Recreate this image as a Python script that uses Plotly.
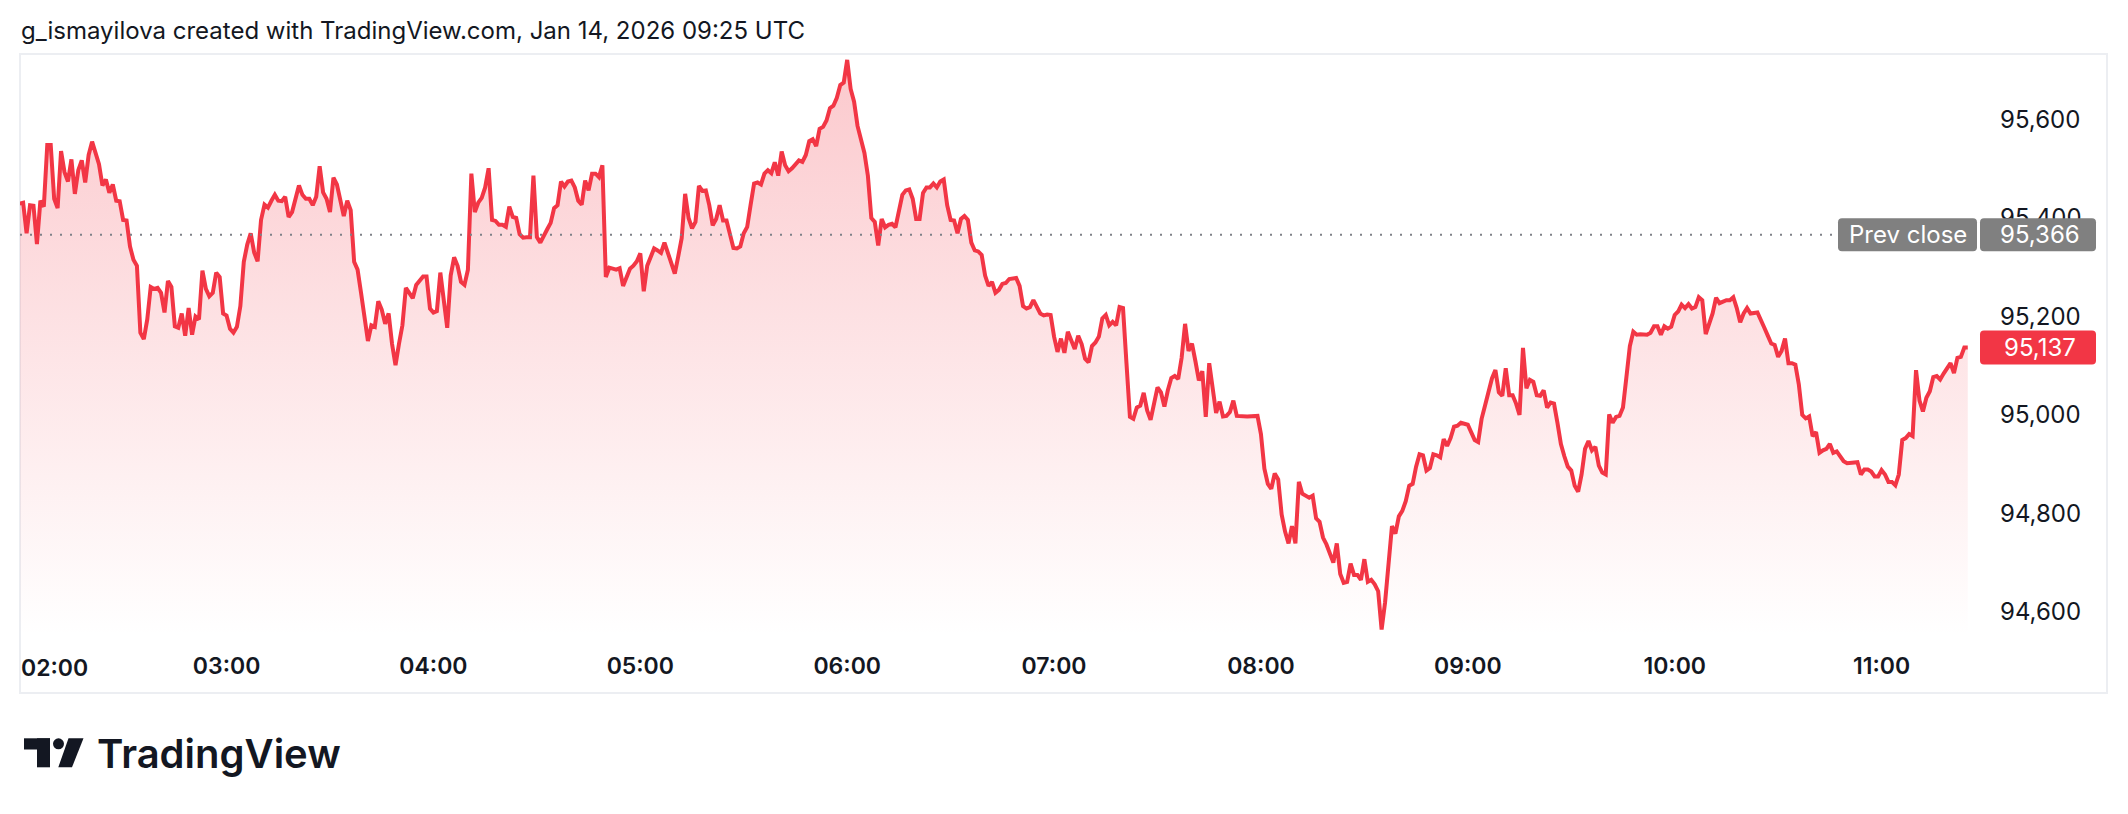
import plotly.graph_objects as go
import pandas as pd

# ---------------- data ----------------
session_start = "2026-01-14 02:00"
minute_offsets = [
    0, 1, 2, 3, 4, 5, 6, 7, 8, 9, 10, 11, 12, 13, 14, 15, 16, 17, 18, 19, 20, 21, 23, 24, 25, 26, 27, 28, 29, 30,
    31, 32, 33, 34, 35, 36, 37, 38, 39, 40, 41, 42, 43, 44, 45, 46, 47, 48, 49, 50, 51, 52, 53, 54, 55, 56, 57, 58, 59, 60,
    61, 62, 63, 64, 65, 66, 67, 68, 69, 70, 71, 72, 73, 74, 75, 76, 77, 78, 79, 80, 81, 82, 83, 84, 85, 86, 87, 88, 89, 90,
    91, 92, 93, 94, 95, 96, 97, 98, 99, 100, 101, 102, 103, 104, 105, 106, 107, 108, 109, 110, 111, 112, 113, 114, 115, 116, 117, 118, 119, 120,
    121, 122, 123, 124, 125, 126, 127, 128, 129, 130, 131, 132, 133, 134, 135, 136, 137, 138, 139, 140, 141, 142, 143, 144, 145, 146, 147, 148, 149, 150,
    151, 152, 153, 154, 155, 156, 157, 158, 159, 160, 161, 162, 163, 164, 165, 166, 167, 168, 169, 170, 171, 173, 174, 175, 176, 177, 178, 179, 180,
    181, 182, 183, 184, 185, 186, 187, 188, 189, 190, 191, 192, 193, 194, 195, 196, 197, 198, 199, 200, 201, 202, 203, 204, 205, 206, 207, 208, 209, 210,
    211, 212, 213, 214, 215, 216, 217, 218, 219, 220, 221, 222, 223, 224, 226, 227, 228, 229, 230, 231, 232, 233, 234, 235, 236, 237, 238, 239, 240,
    241, 242, 243, 244, 245, 246, 247, 248, 249, 250, 251, 252, 253, 254, 255, 256, 257, 258, 259, 260, 261, 262, 263, 264, 265, 266, 267, 268, 269, 270,
    271, 272, 273, 274, 275, 276, 277, 278, 279, 280, 281, 282, 283, 284, 285, 286, 287, 289, 290, 291, 292, 293, 294, 295, 296, 297, 298, 299, 300,
    301, 302, 303, 304, 305, 306, 307, 308, 309, 310, 311, 312, 313, 314, 315, 316, 317, 318, 319, 320, 321, 322, 323, 324, 325, 326, 327, 328, 329, 330,
    331, 332, 333, 334, 335, 336, 337, 338, 339, 340, 341, 342, 343, 344, 345, 346, 347, 348, 349, 350, 351, 352, 353, 356, 359, 360,
    361, 362, 363, 364, 365, 366, 367, 368, 369, 370, 371, 372, 373, 374, 375, 376, 377, 378, 379, 380, 381, 382, 383, 384, 385, 386, 387, 388, 389, 390,
    391, 392, 393, 394, 395, 396, 397, 398, 399, 400, 401, 402, 403, 404, 405, 406, 407, 408, 409, 410, 411, 412, 413, 414, 415, 416, 417, 418, 420,
    421, 422, 423, 424, 425, 426, 427, 428, 429, 430, 431, 432, 433, 434, 435, 436, 437, 438, 439, 440, 441, 442, 443, 444, 445, 446, 447, 448, 449, 450,
    451, 452, 453, 454, 455, 456, 457, 458, 459, 460, 461, 462, 463, 464, 465, 466, 467, 468, 469, 470, 472, 473, 474, 475, 476, 477, 478, 479, 480,
    481, 482, 483, 484, 485, 486, 487, 488, 489, 490, 491, 492, 493, 495, 496, 497, 498, 499, 500, 501, 502, 504, 505, 506, 507, 508, 509, 510,
    511, 512, 513, 514, 515, 516, 517, 518, 519, 520, 521, 522, 523, 524, 525, 526, 527, 528, 529, 530, 531, 533, 534, 535, 536, 537, 538, 539, 540,
    541, 542, 543, 544, 545, 546, 547, 548, 549, 550, 551, 552, 553, 554, 555, 556, 557, 558, 559, 560, 561, 562, 563, 564, 565,
]
prices = [
    95429, 95431, 95369, 95426, 95425, 95347, 95435, 95423, 95548, 95548, 95439, 95420, 95536, 95493, 95474, 95519, 95449, 95497, 95517, 95472, 95528, 95555, 95509, 95466, 95478, 95451, 95468, 95435, 95434, 95396,
    95395, 95342, 95315, 95303, 95167, 95154, 95194, 95260, 95256, 95258, 95248, 95208, 95272, 95260, 95180, 95177, 95206, 95161, 95217, 95163, 95200, 95194, 95293, 95256, 95241, 95248, 95289, 95280, 95206, 95202,
    95175, 95167, 95179, 95221, 95311, 95346, 95369, 95330, 95312, 95396, 95427, 95421, 95435, 95447, 95435, 95434, 95443, 95402, 95412, 95441, 95466, 95447, 95439, 95439, 95426, 95443, 95505, 95452, 95439, 95412,
    95482, 95468, 95439, 95404, 95435, 95416, 95311, 95295, 95248, 95194, 95150, 95182, 95179, 95231, 95214, 95185, 95206, 95144, 95101, 95144, 95182, 95258, 95246, 95237, 95264, 95273, 95281, 95281, 95216, 95208,
    95211, 95289, 95225, 95177, 95283, 95320, 95303, 95270, 95264, 95295, 95490, 95412, 95431, 95441, 95462, 95501, 95396, 95394, 95386, 95386, 95382, 95423, 95402, 95400, 95367, 95360, 95361, 95361, 95486, 95361,
    95350, 95365, 95377, 95390, 95420, 95426, 95474, 95464, 95474, 95476, 95462, 95435, 95427, 95476, 95456, 95490, 95490, 95483, 95507, 95280, 95299, 95295, 95298, 95262, 95280, 95297, 95303, 95312, 95328,
    95251, 95303, 95322, 95338, 95334, 95329, 95350, 95329, 95312, 95287, 95322, 95359, 95449, 95400, 95379, 95392, 95465, 95455, 95456, 95426, 95385, 95398, 95426, 95395, 95395, 95365, 95339, 95338, 95342, 95369,
    95382, 95427, 95470, 95472, 95468, 95490, 95497, 95491, 95513, 95486, 95535, 95507, 95495, 95501, 95517, 95514, 95528, 95556, 95560, 95546, 95581, 95585, 95598, 95623, 95628, 95644, 95670, 95675, 95721,
    95662, 95636, 95587, 95561, 95532, 95486, 95400, 95392, 95344, 95398, 95381, 95386, 95388, 95381, 95412, 95447, 95456, 95458, 95439, 95398, 95398, 95451, 95462, 95462, 95470, 95462, 95474, 95478, 95426, 95396,
    95395, 95369, 95398, 95404, 95396, 95350, 95334, 95332, 95325, 95283, 95262, 95270, 95248, 95254, 95266, 95268, 95276, 95278, 95262, 95221, 95216, 95219, 95233, 95217, 95206, 95202, 95204, 95203, 95159,
    95128, 95155, 95126, 95169, 95151, 95134, 95161, 95144, 95114, 95107, 95140, 95147, 95159, 95196, 95203, 95182, 95189, 95182, 95219, 95217, 95105, 94996, 94992, 95015, 95019, 95045, 95009, 94990, 95023, 95056,
    95046, 95017, 95050, 95075, 95079, 95073, 95116, 95185, 95130, 95145, 95109, 95070, 95089, 94996, 95105, 95054, 95004, 95027, 94997, 94998, 95006, 95029, 94998, 94997, 94998, 94961,
    94891, 94860, 94850, 94881, 94869, 94798, 94763, 94739, 94774, 94739, 94864, 94840, 94835, 94832, 94836, 94790, 94783, 94751, 94737, 94720, 94700, 94739, 94677, 94659, 94661, 94698, 94675, 94675, 94665, 94707,
    94661, 94665, 94656, 94642, 94564, 94619, 94704, 94774, 94759, 94794, 94805, 94825, 94856, 94860, 94895, 94920, 94918, 94887, 94892, 94920, 94918, 94914, 94951, 94937, 94953, 94976, 94978, 94984, 94980,
    94965, 94949, 94945, 94992, 95019, 95050, 95074, 95091, 95046, 95039, 95095, 95040, 95040, 95023, 95000, 95136, 95054, 95071, 95067, 95040, 95039, 95050, 95015, 95025, 95023, 94984, 94941, 94916, 94895, 94887,
    94856, 94844, 94879, 94931, 94947, 94928, 94935, 94897, 94883, 94879, 95001, 94984, 94996, 94998, 95015, 95077, 95140, 95169, 95163, 95164, 95163, 95167, 95180, 95180, 95163, 95180, 95175, 95179, 95203,
    95210, 95224, 95217, 95225, 95216, 95219, 95239, 95233, 95164, 95186, 95206, 95238, 95227, 95233, 95233, 95239, 95217, 95188, 95206, 95217, 95206, 95208, 95194, 95177, 95161, 95145, 95142, 95118,
    95130, 95155, 95105, 95105, 95102, 95062, 95000, 94993, 94997, 94957, 94965, 94923, 94928, 94931, 94941, 94923, 94926, 94914, 94906, 94902, 94902, 94904, 94879, 94889, 94889, 94885, 94875, 94875, 94888,
    94879, 94864, 94864, 94857, 94879, 94949, 94953, 94961, 94957, 95091, 95029, 95007, 95035, 95048, 95077, 95079, 95072, 95084, 95093, 95105, 95085, 95116, 95118, 95137, 95137,
]
prev_close = 95366
price_ticks = [94600, 94800, 95000, 95200, 95400, 95600]
hour_ticks = ["03:00", "04:00", "05:00", "06:00", "07:00", "08:00", "09:00", "10:00", "11:00"]
first_hour_label = "02:00"
title_text = "g_ismayilova created with TradingView.com, Jan 14, 2026 09:25 UTC"

# ---------------- styling / geometry ----------------
# The page body has an 8px margin, so the figure is placed 8px in from the window corner.
OFF = 8
W, H = 2120, 806
RED = "#f23645"
TXT = "#131722"
FONT = "Inter"


def px(x):
    return (x - OFF) / W


def py(y):
    return 1 - (y - OFF) / H


def rrect(w, h, r):
    a, b = w / 2, h / 2
    return (f"M {-a + r},{-b} L {a - r},{-b} Q {a},{-b} {a},{-b + r} "
            f"L {a},{b - r} Q {a},{b} {a - r},{b} L {-a + r},{b} "
            f"Q {-a},{b} {-a},{b - r} L {-a},{-b + r} Q {-a},{-b} {-a + r},{-b} Z")


base = pd.Timestamp(session_start)
times = [base + pd.Timedelta(minutes=m) for m in minute_offsets]
y_bottom, y_top = 94551, 95733

fig = go.Figure()
fig.add_trace(go.Scatter(
    x=times, y=prices, mode="lines",
    line=dict(color=RED, width=4),
    fill="tozeroy",
    fillgradient=dict(type="vertical", start=y_bottom, stop=max(prices),
                      colorscale=[[0, "rgba(242,54,69,0.0)"], [1, "rgba(242,54,69,0.27)"]]),
    hoverinfo="skip", showlegend=False,
))

x_start = base + pd.Timedelta(minutes=0.09)
x_end = base + pd.Timedelta(minutes=567.1)
tick_times = [base.normalize() + pd.Timedelta(t + ":00") for t in hour_ticks]

shapes = []
annotations = []

# outer frame
shapes.append(dict(type="rect", xref="paper", yref="paper", x0=px(20), x1=px(2107), y0=py(693), y1=py(54),
                   line=dict(color="#eceef2", width=2), fillcolor="rgba(0,0,0,0)", layer="below"))
# prev close dotted line
shapes.append(dict(type="line", xref="paper", yref="y", x0=px(20), x1=px(1975), y0=prev_close, y1=prev_close,
                   line=dict(color="#7f8188", width=2, dash="2px,8px"), layer="above"))
# prev close boxes
shapes.append(dict(type="path", xref="paper", yref="y", xsizemode="pixel", ysizemode="pixel",
                   xanchor=px(1907.5), yanchor=prev_close, path=rrect(139, 33, 4),
                   fillcolor="#808080", line=dict(width=0), layer="above"))
shapes.append(dict(type="path", xref="paper", yref="y", xsizemode="pixel", ysizemode="pixel",
                   xanchor=px(2038), yanchor=prev_close, path=rrect(116, 33, 4),
                   fillcolor="#808080", line=dict(width=0), layer="above"))
# last price box
shapes.append(dict(type="path", xref="paper", yref="y", xsizemode="pixel", ysizemode="pixel",
                   xanchor=px(2038), yanchor=prices[-1], path=rrect(116, 34, 4),
                   fillcolor=RED, line=dict(width=0), layer="above"))

annotations.append(dict(text="Prev close", xref="paper", yref="y", x=px(1907.5), y=prev_close,
                        xanchor="center", yanchor="middle",
                        showarrow=False, font=dict(family=FONT, size=24, color="white")))
annotations.append(dict(text=f"{prev_close:,}", xref="paper", yref="y", x=px(2040), y=prev_close,
                        xanchor="center", yanchor="middle",
                        showarrow=False, font=dict(family=FONT, size=24, color="white")))
annotations.append(dict(text=f"{prices[-1]:,}", xref="paper", yref="y", x=px(2040), y=prices[-1],
                        xanchor="center", yanchor="middle",
                        showarrow=False, font=dict(family=FONT, size=24, color="white")))

# title
annotations.append(dict(text=title_text, xref="paper", yref="paper", x=px(19), y=py(30),
                        xanchor="left", yanchor="middle", showarrow=False,
                        font=dict(family=FONT, size=24, color=TXT)))
# first hour label (shifted inside like TradingView)
annotations.append(dict(text=first_hour_label, xref="paper", yref="paper", x=px(19), y=py(668),
                        xanchor="left", yanchor="middle", showarrow=False,
                        font=dict(family=FONT, size=23, color=TXT, weight=600)))

# TradingView logo
logo_col = "#131722"
shapes.append(dict(type="rect", xref="paper", yref="paper", x0=px(24), x1=px(50), y0=py(749.5), y1=py(738.3),
                   fillcolor=logo_col, line=dict(width=0)))
shapes.append(dict(type="rect", xref="paper", yref="paper", x0=px(37), x1=px(50), y0=py(767.3), y1=py(738.3),
                   fillcolor=logo_col, line=dict(width=0)))
shapes.append(dict(type="circle", xref="paper", yref="paper", x0=px(53), x1=px(64), y0=py(749.3), y1=py(738.3),
                   fillcolor=logo_col, line=dict(width=0)))
shapes.append(dict(type="path", xref="paper", yref="paper",
                   path=f"M {px(68.5)},{py(738.3)} L {px(83.5)},{py(738.3)} L {px(72)},{py(767.3)} L {px(58.3)},{py(767.3)} Z",
                   fillcolor=logo_col, line=dict(width=0)))
annotations.append(dict(text="TradingView", xref="paper", yref="paper", x=px(95), y=py(753),
                        xanchor="left", yanchor="middle", showarrow=False,
                        font=dict(family=FONT, size=40, color=logo_col, weight=600)))

fig.update_layout(
    width=W, height=H,
    margin=dict(l=0, r=0, t=0, b=0, pad=0),
    paper_bgcolor="white", plot_bgcolor="white",
    template="none",
    showlegend=False,
    shapes=shapes,
    annotations=annotations,
    xaxis=dict(
        type="date", domain=[px(20), px(1975)], range=[x_start, x_end],
        tickvals=tick_times, ticktext=hour_ticks,
        tickfont=dict(family=FONT, size=23, color=TXT, weight=600),
        showgrid=False, zeroline=False, showline=False, ticks="",
        ticklabelstandoff=14, automargin=False, fixedrange=True,
    ),
    yaxis=dict(
        domain=[py(636), py(54)], range=[y_bottom, y_top], side="right",
        tickvals=price_ticks, ticktext=[f"{v:,}" for v in price_ticks],
        tickfont=dict(family=FONT, size=24, color=TXT),
        showgrid=False, zeroline=False, showline=False, ticks="",
        ticklabelstandoff=24, automargin=False, fixedrange=True,
    ),
)

fig.write_html("out.html")
